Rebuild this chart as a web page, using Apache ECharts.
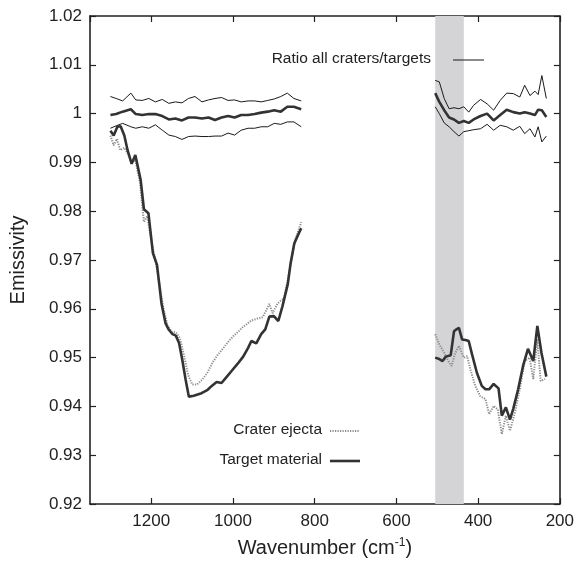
<!DOCTYPE html>
<html><head><meta charset="utf-8">
<script src="https://cdn.jsdelivr.net/npm/echarts@6/dist/echarts.min.js"></script>
<style>html,body{margin:0;padding:0;background:#fff}#c{width:577px;height:564px}</style>
</head><body><div id="c"></div>
<script>
// ---- data ----
const xTicks = [200, 400, 600, 800, 1000, 1200];
const bandRange = [505, 435];

const wnRatioLeft = [1300,1286,1270,1250,1238,1222,1206,1190,1173,1157,1141,1125,1109,1093,1076,1060,1044,1028,1012,996,980,963,947,931,915,899,883,867,851,833];
const ratioUpperLeft = [1.0035,1.0031,1.0026,1.0042,1.0028,1.0027,1.0031,1.0024,1.0029,1.0021,1.0024,1.0022,1.0031,1.0035,1.0024,1.0028,1.0031,1.0033,1.0027,1.0028,1.0024,1.0026,1.0026,1.0024,1.0027,1.0030,1.0035,1.0042,1.0031,1.0026];
const ratioMeanLeft = [0.9997,0.9999,1.0004,1.0009,0.9999,0.9997,0.9999,0.9999,0.9995,0.9988,0.9990,0.9986,0.9992,0.9992,0.9990,0.9992,0.9987,0.9992,0.9995,0.9992,0.9997,0.9997,0.9999,1.0002,1.0004,1.0007,1.0004,1.0014,1.0014,1.0009];
const ratioLowerLeft = [0.9970,0.9975,0.9980,0.9973,0.9970,0.9973,0.9970,0.9977,0.9966,0.9956,0.9953,0.9947,0.9953,0.9954,0.9953,0.9953,0.9954,0.9954,0.9960,0.9956,0.9966,0.9970,0.9970,0.9973,0.9973,0.9980,0.9978,0.9983,0.9983,0.9973];

const wnRatioRight = [505,495,483,471,459,447,435,423,411,394,378,362,346,330,314,298,286,273,261,253,244,233];
const ratioUpperRight = [1.0068,1.0065,1.0031,1.0010,1.0012,1.0010,1.0014,1.0003,1.0017,1.0029,1.0020,1.0007,1.0027,1.0042,1.0041,1.0034,1.0058,1.0037,1.0046,1.0039,1.0078,1.0031];
const ratioMeanRight = [1.0042,1.0024,1.0007,0.9992,0.9988,0.9981,0.9985,0.9981,0.9988,0.9995,1.0000,0.9986,0.9997,1.0008,1.0003,1.0000,1.0003,1.0000,0.9997,1.0008,1.0007,0.9993];
const ratioLowerRight = [1.0014,1.0000,0.9981,0.9973,0.9963,0.9954,0.9963,0.9965,0.9967,0.9969,0.9978,0.9966,0.9976,0.9973,0.9966,0.9974,0.9959,0.9969,0.9952,0.9973,0.9942,0.9954];

const wnTargetLeft = [1300,1292,1283,1275,1266,1258,1248,1239,1226,1218,1207,1196,1186,1175,1165,1157,1148,1140,1132,1124,1116,1108,1096,1077,1062,1052,1040,1028,1016,1004,989,975,963,955,943,931,921,911,900,889,879,866,859,850,841,833];
const targetLeft = [0.9965,0.9955,0.9973,0.9974,0.9955,0.9925,0.9897,0.9915,0.9864,0.9804,0.9796,0.9714,0.9690,0.9611,0.9570,0.9557,0.9548,0.9545,0.9530,0.9495,0.9455,0.9420,0.9422,0.9427,0.9434,0.9442,0.9450,0.9448,0.9460,0.9472,0.9487,0.9502,0.9520,0.9534,0.9529,0.9548,0.9558,0.9584,0.9585,0.9575,0.9605,0.9650,0.9693,0.9734,0.9751,0.9765];

const wnEjectaLeft = [1300,1292,1284,1276,1266,1258,1248,1239,1228,1218,1210,1200,1190,1180,1170,1160,1150,1140,1130,1120,1110,1100,1088,1075,1062,1050,1038,1025,1012,998,985,975,955,940,927,911,903,891,875,866,857,848,840,833];
const ejectaLeft = [0.9955,0.9935,0.9948,0.9925,0.9930,0.9918,0.9900,0.9905,0.9860,0.9778,0.9790,0.9740,0.9700,0.9650,0.9600,0.9565,0.9553,0.9552,0.9540,0.9505,0.9465,0.9445,0.9445,0.9455,0.9470,0.9490,0.9505,0.9518,0.9532,0.9545,0.9555,0.9563,0.9576,0.9580,0.9583,0.9610,0.9591,0.9611,0.9622,0.9659,0.9700,0.9740,0.9760,0.9778];

const wnTargetRight = [505,495,487,479,467,459,453,447,439,431,423,415,403,391,382,373,362,350,342,332,322,314,302,290,278,265,255,245,233];
const targetRight = [0.9500,0.9497,0.9493,0.9502,0.9505,0.9554,0.9558,0.9561,0.9537,0.9536,0.9534,0.9507,0.9469,0.9442,0.9435,0.9435,0.9446,0.9437,0.9381,0.9398,0.9373,0.9395,0.9435,0.9483,0.9518,0.9493,0.9565,0.9510,0.9461];

const wnEjectaRight = [505,495,483,471,465,457,447,435,427,419,407,395,382,373,362,352,342,332,322,310,298,286,274,265,255,247,236];
const ejectaRight = [0.9548,0.9527,0.9510,0.9490,0.9483,0.9507,0.9524,0.9500,0.9503,0.9476,0.9442,0.9421,0.9415,0.9384,0.9401,0.9394,0.9343,0.9381,0.9350,0.9387,0.9435,0.9493,0.9500,0.9456,0.9538,0.9452,0.9456];

const legendNames = ['Ratio all craters/targets', 'Crater ejecta', 'Target material'];

// ---- chart ----
const zip = (xs, ys) => xs.map((x, i) => [x, ys[i]]);
const FONT = '"Liberation Sans", Arial, Helvetica, sans-serif';
const AX = '#222';

const thin = { color: '#1a1a1a', width: 1 };
const thick = { color: '#333', width: 2.6 };
const dotted = { color: '#8c8c8c', width: 2, type: [1.2, 1.3] };

function line(name, data, style, z) {
  return { type: 'line', name, data, showSymbol: false, symbol: 'none', lineStyle: style,
    itemStyle: { color: style.color }, z: z || 3, animation: false, silent: true };
}

const chart = echarts.init(document.getElementById('c'), null, { renderer: 'canvas' });
const grid = { left: 87, right: 15, top: 16, bottom: 60, show: false };

const xCommon = {
  type: 'value', inverse: true, min: 200, max: 1350, interval: 200,
  splitLine: { show: false },
  axisLine: { show: true, onZero: false, lineStyle: { color: AX, width: 1.6 } },
  axisTick: { show: true, inside: true, length: 6, lineStyle: { color: AX, width: 1.2 } }
};
const yCommon = {
  type: 'value', min: 0.92, max: 1.02, interval: 0.01,
  splitLine: { show: false },
  axisLine: { show: true, onZero: false, lineStyle: { color: AX, width: 1.6 } },
  axisTick: { show: true, inside: true, length: 6, lineStyle: { color: AX, width: 1.2 } }
};

chart.setOption({
  backgroundColor: '#fff',
  grid,
  xAxis: [
    Object.assign({}, xCommon, {
      position: 'bottom',
      name: 'Wavenumber (cm{sup|-1})', nameLocation: 'middle', nameGap: 33,
      nameTextStyle: { fontFamily: FONT, fontSize: 20, color: '#222',
        rich: { sup: { fontFamily: FONT, fontSize: 12, color: '#222', verticalAlign: 'top', padding: [0, 0, 10, 0] } } },
      axisLabel: { show: true, fontFamily: FONT, fontSize: 17, color: '#222', margin: 9, showMaxLabel: false,
        formatter: v => xTicks.includes(v) ? String(v) : '' }
    }),
    Object.assign({}, xCommon, { position: 'top', axisLabel: { show: false } })
  ],
  yAxis: [
    Object.assign({}, yCommon, {
      position: 'left',
      name: 'Emissivity', nameLocation: 'middle', nameGap: 62, nameRotate: 90,
      nameTextStyle: { fontFamily: FONT, fontSize: 20, color: '#222' },
      axisLabel: { fontFamily: FONT, fontSize: 17, color: '#222', margin: 8,
        formatter: v => String(+v.toFixed(2)) }
    }),
    Object.assign({}, yCommon, { position: 'right', axisLabel: { show: false } })
  ],
  series: [
    Object.assign(line('band', [], thin, 1), {
      markArea: { silent: true, itemStyle: { color: '#d4d4d6', opacity: 1 },
        data: [[{ xAxis: bandRange[0] }, { xAxis: bandRange[1] }]] }
    }),
    line(legendNames[1], zip(wnEjectaLeft, ejectaLeft), dotted, 3),
    line(legendNames[1], zip(wnEjectaRight, ejectaRight), dotted, 3),
    line(legendNames[2], zip(wnTargetLeft, targetLeft), thick, 4),
    line(legendNames[2], zip(wnTargetRight, targetRight), thick, 4),
    line(legendNames[0], zip(wnRatioLeft, ratioUpperLeft), thin, 5),
    line('ratio lower', zip(wnRatioLeft, ratioLowerLeft), thin, 5),
    line('ratio mean', zip(wnRatioLeft, ratioMeanLeft), thick, 5),
    line(legendNames[0], zip(wnRatioRight, ratioUpperRight), thin, 5),
    line('ratio lower', zip(wnRatioRight, ratioLowerRight), thin, 5),
    line('ratio mean', zip(wnRatioRight, ratioMeanRight), thick, 5)
  ],
  graphic: [
    { type: 'text', z: 100, right: 577 - 431, top: 51, style: { text: legendNames[0], font: '15.5px ' + FONT, fill: '#222' } },
    { type: 'line', z: 100, shape: { x1: 453, y1: 60, x2: 484, y2: 60 }, style: { stroke: thin.color, lineWidth: 1 } },
    { type: 'text', z: 100, right: 577 - 322, top: 422, style: { text: legendNames[1], font: '15.5px ' + FONT, fill: '#222' } },
    { type: 'line', z: 100, shape: { x1: 330, y1: 431, x2: 360, y2: 431 }, style: { stroke: dotted.color, lineWidth: 2, lineDash: [1.2, 1.3] } },
    { type: 'text', z: 100, right: 577 - 322, top: 452, style: { text: legendNames[2], font: '15.5px ' + FONT, fill: '#222' } },
    { type: 'line', z: 100, shape: { x1: 330, y1: 461, x2: 360, y2: 461 }, style: { stroke: thick.color, lineWidth: 2.6 } }
  ]
});
</script></body></html>
